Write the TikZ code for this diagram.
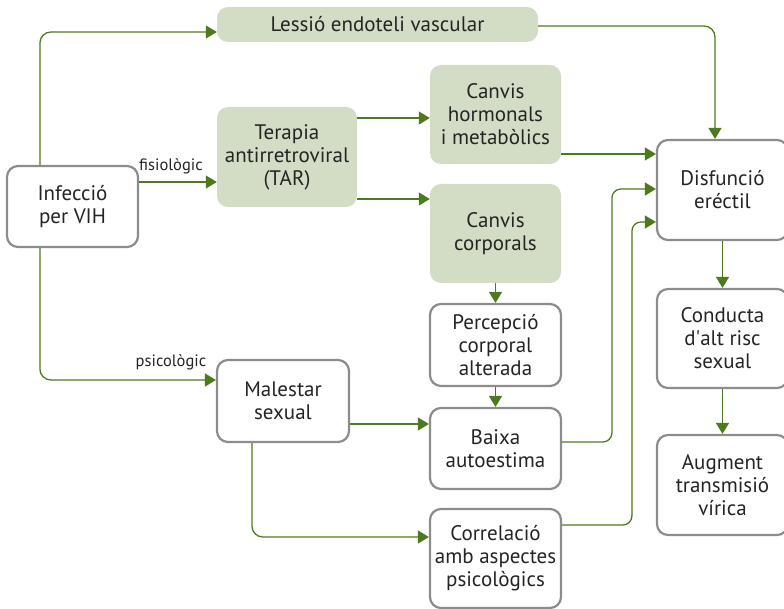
\documentclass[tikz,border=0pt]{standalone}
\usepackage{fontspec}
\setmainfont{PT Sans}
\usetikzlibrary{arrows.meta}
\definecolor{gline}{HTML}{4E7A1E}
\definecolor{gfill}{HTML}{D3DDC5}
\definecolor{bord}{HTML}{8C8C8E}
\definecolor{txt}{HTML}{242424}
\begin{document}
\begin{tikzpicture}[x=1pt,y=-1pt,
  base/.style={rounded corners=11pt, align=center, text=txt, font=\fontsize{21}{23}\selectfont, inner sep=0pt},
  gbox/.style={base, fill=gfill},
  wbox/.style={base, draw=bord, line width=2.2pt, fill=white},
  conn/.style={draw=gline, line width=1.3pt, rounded corners=11pt, -{Triangle[length=11pt,width=13pt]}},
  lbl/.style={font=\fontsize{16.5}{18}\selectfont, text=txt, inner sep=0pt}]
\useasboundingbox (0,0) rectangle (784,609);
% nodes
\node[wbox, minimum width=131pt, minimum height=81pt] (inf) at (72.5,206.5) {Infecció\\per VIH};
\node[gbox, minimum width=321pt, minimum height=35pt] (les) at (377.5,24.5) {Lessió endoteli vascular};
\node[gbox, minimum width=140pt, minimum height=100pt] (tar) at (287,157) {Terapia\\antirretroviral\\(TAR)};
\node[gbox, minimum width=131pt, minimum height=99pt] (ch) at (495.5,114.5) {Canvis\\hormonals\\i metabòlics};
\node[gbox, minimum width=131pt, minimum height=99pt] (cc) at (495.5,233.5) {Canvis\\corporals};
\node[wbox, minimum width=131pt, minimum height=82pt] (perc) at (495.5,345) {Percepció\\corporal\\alterada};
\node[wbox, minimum width=131pt, minimum height=81pt] (baixa) at (495.5,448.5) {Baixa\\autoestima};
\node[wbox, minimum width=131pt, minimum height=99pt] (corr) at (495.5,558.5) {Correlació\\amb aspectes\\psicològics};
\node[wbox, minimum width=132pt, minimum height=82pt] (mal) at (283,401) {Malestar\\sexual};
\node[wbox, minimum width=131pt, minimum height=100pt] (disf) at (722.5,190) {Disfunció\\eréctil};
\node[wbox, minimum width=131pt, minimum height=99pt] (cond) at (722.5,338.5) {Conducta\\d\textquotesingle alt risc\\sexual};
\node[wbox, minimum width=131pt, minimum height=100pt] (aug) at (722.5,485) {Augment\\transmisió\\vírica};
% labels
\node[lbl] (lfis) at (171,166) {fisiològic};
\node[lbl] (lpsi) at (171,362) {psicològic};
% coordinates
\coordinate (infT) at ([xshift=34pt]inf.north west);
\coordinate (infB) at ([xshift=34pt]inf.south west);
\coordinate (lesIn) at ([yshift=-7.5pt]les.west);
\coordinate (tarIn) at ([yshift=-25pt]tar.west);
\coordinate (malIn) at ([yshift=21pt]mal.west);
\coordinate (tarO1) at ([yshift=39pt]tar.east);
\coordinate (tarO2) at ([yshift=-42pt]tar.east);
\coordinate (lesO) at ([yshift=-1.5pt]les.east);
\coordinate (disfT) at ([xshift=-7.5pt]disf.north);
\coordinate (chO) at ([yshift=-39.5pt]ch.east);
\coordinate (malO) at ([yshift=-23pt]mal.east);
\coordinate (malB) at ([xshift=36pt]mal.south west);
\coordinate (corrIn) at ([yshift=21.5pt]corr.west);
\coordinate (bxO) at ([yshift=6.5pt]baixa.east);
\coordinate (corrO) at ([yshift=33.5pt]corr.east);
\coordinate (disfIn2) at ([yshift=1pt]disf.west);
\coordinate (disfIn3) at ([yshift=-32pt]disf.west);
\coordinate (turn2) at ([xshift=-44pt]disfIn2);
\coordinate (turn3) at ([xshift=-24pt]disfIn3);
% connectors
\draw[conn] (infT) |- (lesIn);
\draw[conn] (inf.east |- tarIn) -- (tarIn);
\draw[conn] (infB) |- (malIn);
\draw[conn] (tarO1) -- (tarO1 -| ch.west);
\draw[conn] (tarO2) -- (tarO2 -| cc.west);
\draw[conn] (lesO) -| (disfT);
\draw[conn] (chO) -- (chO -| disf.west);
\draw[conn] (cc.south) -- (perc.north);
\draw[conn] (perc.south) -- (baixa.north);
\draw[conn] (malO) -- (malO -| baixa.west);
\draw[conn] (malB) |- (corrIn);
\draw[conn, rounded corners=9pt] (bxO) -| (turn2) -- (disfIn2);
\draw[conn, rounded corners=9pt] (corrO) -| (turn3) -- (disfIn3);
\draw[conn] (disf.south) -- (cond.north);
\draw[conn] (cond.south) -- (aug.north);
\end{tikzpicture}
\end{document}
